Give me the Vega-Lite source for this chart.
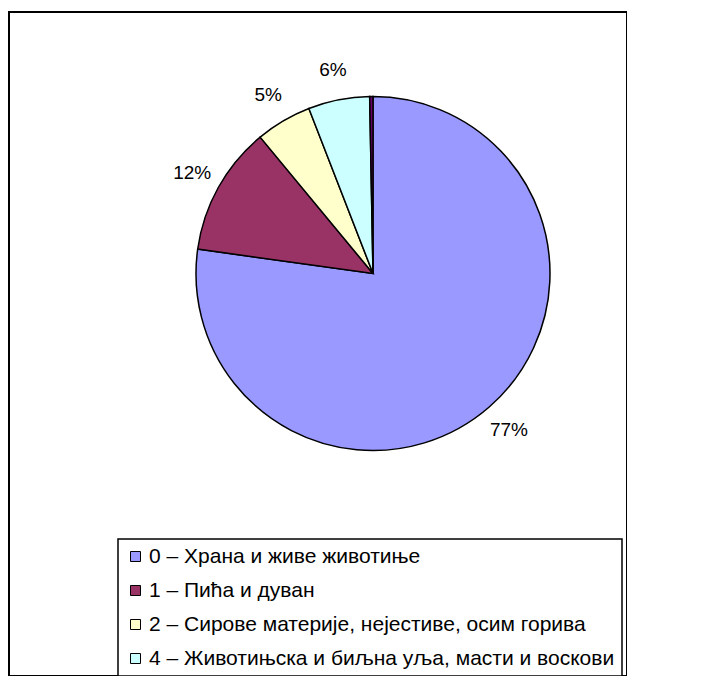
{
  "$schema": "https://vega.github.io/schema/vega-lite/v6.json",
  "width": 618,
  "height": 664,
  "autosize": {"type": "none"},
  "padding": {"left": 9, "top": 12, "right": 0, "bottom": 0},
  "background": "white",
  "view": {"stroke": "black", "strokeWidth": 2, "fill": "white"},
  "config": {
    "view": {"stroke": "black", "strokeWidth": 2},
    "font": "Liberation Sans"
  },
  "data": {
    "values": [
      {"category": "0 – Храна и живе животиње", "share": 0.772, "ord": 1},
      {"category": "1 – Пића и дуван", "share": 0.118, "ord": 2},
      {"category": "2 – Сирове материје, нејестиве, осим горива", "share": 0.051, "ord": 3},
      {"category": "4 – Животињска и биљна уља, масти и воскови", "share": 0.056, "ord": 4},
      {"category": "3 – Минерална горива", "share": 0.003, "ord": 5}
    ]
  },
  "encoding": {
    "theta": {"field": "share", "type": "quantitative", "stack": true},
    "order": {"field": "ord", "type": "quantitative"},
    "color": {
      "field": "category",
      "type": "nominal",
      "scale": {
        "domain": [
          "0 – Храна и живе животиње",
          "1 – Пића и дуван",
          "2 – Сирове материје, нејестиве, осим горива",
          "4 – Животињска и биљна уља, масти и воскови",
          "3 – Минерална горива"
        ],
        "range": ["#9999FF", "#993366", "#FFFFCC", "#CCFFFF", "#660066"]
      },
      "legend": {
        "values": [
          "0 – Храна и живе животиње",
          "1 – Пића и дуван",
          "2 – Сирове материје, нејестиве, осим горива",
          "4 – Животињска и биљна уља, масти и воскови"
        ],
        "title": null,
        "orient": "none",
        "legendX": 109,
        "legendY": 527,
        "symbolType": "square",
        "symbolSize": 100,
        "symbolStrokeColor": "black",
        "symbolStrokeWidth": 1,
        "labelFontSize": 21,
        "labelFont": "Liberation Sans",
        "labelColor": "black",
        "labelLimit": 700,
        "labelOffset": 3,
        "rowPadding": 12,
        "padding": 7,
        "strokeColor": "black",
        "fillColor": "white",
        "encode": {"legend": {"update": {"strokeWidth": {"value": 1.5}}}}
      }
    }
  },
  "layer": [
    {
      "mark": {"type": "arc", "x": 364, "y": 261.5, "outerRadius": 177, "stroke": "black", "strokeWidth": 1.5}
    },
    {
      "transform": [{"filter": "datum.share >= 0.01"}],
      "mark": {"type": "text", "x": 364, "y": 261.5, "radius": 207, "fontSize": 19, "align": "center", "baseline": "middle"},
      "encoding": {
        "text": {"field": "share", "type": "quantitative", "format": ".0%"},
        "color": {"value": "black"}
      }
    }
  ]
}
